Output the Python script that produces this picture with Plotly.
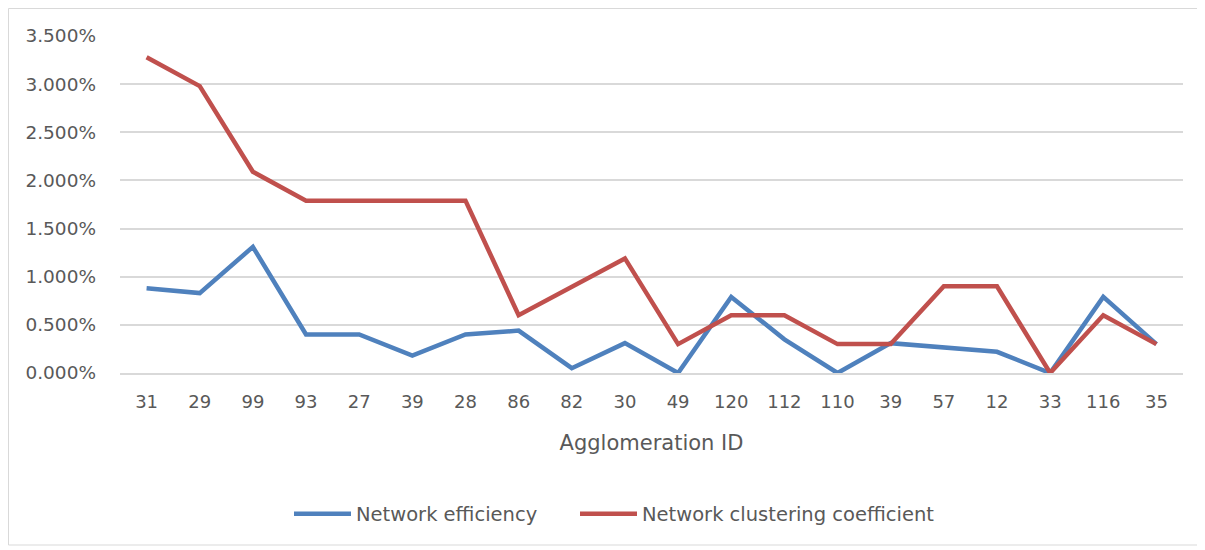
import plotly.graph_objects as go

categories = ["31", "29", "99", "93", "27", "39", "28", "86", "82", "30",
              "49", "120", "112", "110", "39", "57", "12", "33", "116", "35"]
efficiency = [0.0088, 0.0083, 0.0131, 0.0040, 0.0040, 0.0018, 0.0040, 0.0044, 0.0005, 0.0031,
              0.0000, 0.0079, 0.0035, 0.0000, 0.0031, 0.0026, 0.0022, 0.0000, 0.0079, 0.0030]
clustering = [0.0328, 0.0298, 0.0209, 0.0179, 0.0179, 0.0179, 0.0179, 0.0060, 0.0090, 0.0119,
              0.0030, 0.0060, 0.0060, 0.0030, 0.0030, 0.0090, 0.0090, 0.0000, 0.0060, 0.0030]
y_ticks = [0, 0.005, 0.010, 0.015, 0.020, 0.025, 0.030, 0.035]

xpos = list(range(len(categories)))
# page has an 8px body margin, so figure coords = page coords - 8
W, H = 1205, 550
ml, mr, mt, mb = 112, 30, 28, 185
pw, ph = W - ml - mr, H - mt - mb

fig = go.Figure()
fig.add_trace(go.Scatter(x=xpos, y=efficiency, mode="lines", name="Network efficiency",
                         line=dict(color="#4F81BD", width=4.5), legend="legend"))
fig.add_trace(go.Scatter(x=xpos, y=clustering, mode="lines", name="Network clustering coefficient",
                         line=dict(color="#C0504D", width=4.5), legend="legend2"))

font = "DejaVu Sans, sans-serif"
leg_y = -(506 - (H - mb)) / ph
leg_common = dict(orientation="h", xanchor="left", y=leg_y, yanchor="middle",
                  font=dict(size=19.5, color="#595959"), itemwidth=57,
                  bgcolor="rgba(0,0,0,0)")
fig.update_layout(
    width=W, height=H,
    margin=dict(l=ml, r=mr, t=mt, b=mb),
    paper_bgcolor="white", plot_bgcolor="white",
    font=dict(family=font, color="#595959", size=18),
    xaxis=dict(tickmode="array", tickvals=xpos, ticktext=categories,
               range=[-0.5, len(categories) - 0.5], showgrid=False,
               showline=True, linecolor="#D9D9D9", linewidth=1.5,
               ticks="", tickfont=dict(size=18, color="#595959"), ticklabelstandoff=12,
               title=dict(text="Agglomeration ID", font=dict(size=21, color="#595959"), standoff=24),
               zeroline=False),
    yaxis=dict(range=[0, 0.035], tickvals=y_ticks, tickformat=".3%",
               showgrid=True, gridcolor="#D9D9D9", gridwidth=1.5,
               zeroline=False, showline=False, ticks="",
               tickfont=dict(size=18.5, color="#595959"), ticklabelstandoff=23),
    legend=dict(x=(281 - ml) / pw, **leg_common),
    legend2=dict(x=(567 - ml) / pw, **leg_common),
    showlegend=True,
)
# outer chart border
fig.add_shape(type="rect", xref="paper", yref="paper",
              x0=(0.5 - ml) / pw, x1=(1191 - ml) / pw,
              y0=(H - mb - 537) / ph, y1=(H - mb - 0.5) / ph,
              line=dict(color="#D9D9D9", width=1), layer="below")

fig.write_html("out.html")
